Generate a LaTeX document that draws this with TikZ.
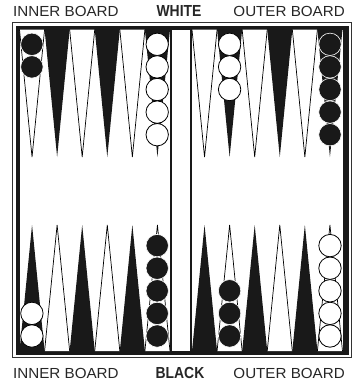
\documentclass[tikz,border=0pt]{standalone}
\usepackage{fontspec}
\setmainfont{Liberation Sans}
\begin{document}
\begin{tikzpicture}[x=1pt,y=-1pt,
  lbl/.style={inner sep=0pt,font=\fontsize{14.6}{14.6}\selectfont,text=black!85},
  side/.style={inner sep=0pt,font=\fontsize{16}{16}\selectfont\bfseries,text=black!85},
  wpt/.style={fill=white,draw=black,line width=0.7pt,line join=miter},
  bpt/.style={fill=black!90,draw=black!90,line width=0.3pt},
  wck/.style={fill=white,draw=black,line width=0.8pt},
  bck/.style={fill=black!90,draw=white,line width=0.6pt}]
\useasboundingbox (0,0) rectangle (355,384);
% frame
\draw[line width=0.9pt,black!80] (12.5,22.5) rectangle (351.5,357.5);
\fill[black!90] (15.5,25.5) rectangle (348.5,355);
\fill[white] (19.5,29.5) rectangle (342.5,351);
% bar
\fill[black!90] (170,29.5) rectangle (172,351);
\fill[black!90] (190,29.5) rectangle (192,351);
% points
\def\w{25.08}
\foreach \xo in {19.5,192}{
  \foreach \i in {0,...,5}{
    \pgfmathsetmacro{\xa}{\xo+\i*\w}
    \pgfmathsetmacro{\xm}{\xo+(\i+0.5)*\w}
    \pgfmathsetmacro{\xb}{\xo+(\i+1)*\w}
    \pgfmathparse{int(mod(\i,2))}
    \ifnum\pgfmathresult=0
      \draw[wpt] (\xa,29.5) -- (\xm,157) -- (\xb,29.5);
      \fill[black!90] (\xa,351) -- (\xm,225) -- (\xb,351) -- cycle;
    \else
      \fill[black!90] (\xa,29.5) -- (\xm,157) -- (\xb,29.5) -- cycle;
      \draw[wpt] (\xa,351) -- (\xm,225) -- (\xb,351);
    \fi
  }
}
% checkers
\def\r{11.2}
\def\sp{22.6}
% top
\foreach \k in {0,1} \draw[bck] (31.9,44.3+\k*\sp) circle (\r);
\foreach \k in {0,...,4} \draw[wck] (157.2,44.3+\k*\sp) circle (\r);
\foreach \k in {0,...,2} \draw[wck] (229.6,44.3+\k*\sp) circle (\r);
\foreach \k in {0,...,4} \draw[bck] (330,44.3+\k*\sp) circle (\r);
% bottom
\foreach \k in {0,1} \draw[wck] (31.9,336-\k*\sp) circle (\r);
\foreach \k in {0,...,4} \draw[bck] (157.2,336-\k*\sp) circle (\r);
\foreach \k in {0,...,2} \draw[bck] (229.6,336-\k*\sp) circle (\r);
\foreach \k in {0,...,4} \draw[wck] (330,336-\k*\sp) circle (\r);
% labels
\node[lbl,anchor=west] (tl) at (13,11.5) {\scalebox{1.04}[1]{INNER BOARD}};
\node[side] (tw) at (179,11) {\scalebox{0.87}[1]{WHITE}};
\node[lbl,anchor=east] (tr) at (345,11.5) {\scalebox{1.04}[1]{OUTER BOARD}};
\node[lbl,anchor=west] (bl) at (13,373) {\scalebox{1.04}[1]{INNER BOARD}};
\node[side] (bb) at (180,372.5) {\scalebox{0.87}[1]{BLACK}};
\node[lbl,anchor=east] (br) at (345,373) {\scalebox{1.04}[1]{OUTER BOARD}};
\end{tikzpicture}
\end{document}
